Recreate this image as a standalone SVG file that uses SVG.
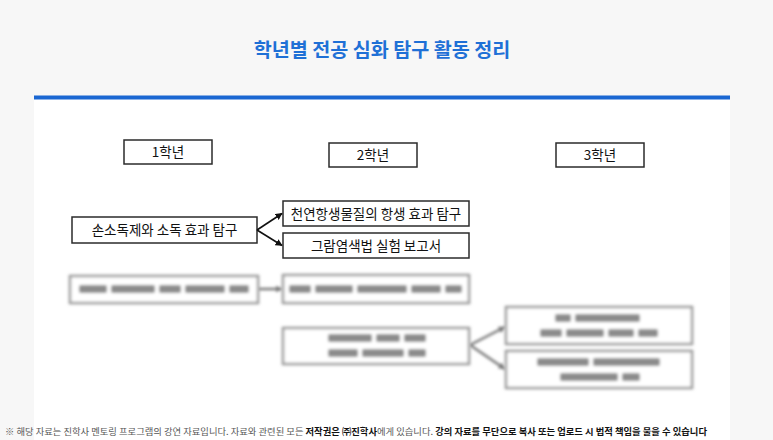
<svg xmlns="http://www.w3.org/2000/svg" width="773" height="440" viewBox="0 0 773 440">
  <style>
    .title { font-family: "Noto Sans CJK KR", "Noto Sans", sans-serif; font-size: 19.6px; font-weight: 700; fill: #1f70d6; }
    .box { fill: #ffffff; stroke: #2b2b2b; stroke-width: 1.5; }
    .lbl { font-family: "Noto Sans CJK KR", "Noto Sans", sans-serif; font-size: 13.5px; fill: #111111; }
    .glbl { font-family: "Noto Sans CJK KR", "Noto Sans", sans-serif; font-size: 13.5px; fill: #111111; }
    .conn { stroke: #111111; stroke-width: 1.6; fill: none; }
    .bbox { fill: #ffffff; stroke: #999999; stroke-width: 2.5; }
    .bconn { stroke: #777777; stroke-width: 2.5; fill: none; }
    .btext { fill: #8c8c8c; }
    .foot { font-family: "Noto Sans CJK KR", "Noto Sans", sans-serif; font-size: 8.6px; fill: #555555; }
    .foot .b { font-weight: 700; fill: #111111; }
  </style>
  <defs>
    <marker id="arrow" viewBox="0 0 10 10" refX="9" refY="5" markerWidth="7" markerHeight="7" markerUnits="userSpaceOnUse" orient="auto">
      <path d="M0,0 L10,5 L0,10 Z" fill="#111111"/>
    </marker>
    <marker id="barrow" viewBox="0 0 10 10" refX="9" refY="5" markerWidth="7" markerHeight="7" markerUnits="userSpaceOnUse" orient="auto">
      <path d="M0,0 L10,5 L0,10 Z" fill="#777777"/>
    </marker>
    <filter id="blur" x="-10%" y="-30%" width="120%" height="160%">
      <feGaussianBlur stdDeviation="1.8"/>
    </filter>
  </defs>

  <rect x="0" y="0" width="773" height="440" fill="#f7f7f7"/>
  <rect x="34" y="99" width="696" height="341" fill="#ffffff"/>
  <rect x="34" y="95.5" width="696" height="4" fill="#1a67d2"/>

  <text class="title" x="382" y="57" text-anchor="middle">학년별 전공 심화 탐구 활동 정리</text>

  <g id="grade1">
    <rect class="box" x="124" y="140" width="88" height="24"/>
    <text class="glbl" x="168" y="157" text-anchor="middle">1학년</text>
  </g>
  <g id="grade2">
    <rect class="box" x="329" y="143" width="88" height="24"/>
    <text class="glbl" x="373" y="160" text-anchor="middle">2학년</text>
  </g>
  <g id="grade3">
    <rect class="box" x="556" y="143" width="88" height="24"/>
    <text class="glbl" x="600" y="160" text-anchor="middle">3학년</text>
  </g>

  <g id="n1">
    <rect class="box" x="72" y="217" width="185" height="26"/>
    <text class="lbl" x="164.5" y="235" text-anchor="middle">손소독제와 소독 효과 탐구</text>
  </g>
  <g id="n2">
    <rect class="box" x="283" y="201" width="186" height="25"/>
    <text class="lbl" x="376" y="218.5" text-anchor="middle">천연항생물질의 항생 효과 탐구</text>
  </g>
  <g id="n3">
    <rect class="box" x="283" y="233" width="186" height="25"/>
    <text class="lbl" x="376" y="250.5" text-anchor="middle">그람염색법 실험 보고서</text>
  </g>

  <g id="connectors">
    <line class="conn" x1="257" y1="230" x2="282" y2="213.5" marker-end="url(#arrow)"/>
    <line class="conn" x1="257" y1="230" x2="282" y2="245.5" marker-end="url(#arrow)"/>
    <g filter="url(#blur)">
      <line class="bconn" x1="258" y1="289" x2="282" y2="289" marker-end="url(#barrow)"/>
      <line class="bconn" x1="470" y1="345" x2="505" y2="327" marker-end="url(#barrow)"/>
      <line class="bconn" x1="470" y1="345" x2="505" y2="369" marker-end="url(#barrow)"/>
    </g>
  </g>

  <g id="blurred" filter="url(#blur)">
    <g id="b1">
      <rect class="bbox" x="70" y="276" width="188" height="27"/>
      <rect class="btext" x="79" y="285" width="28" height="8" rx="2"/>
      <rect class="btext" x="111" y="285" width="44" height="8" rx="2"/>
      <rect class="btext" x="159" y="285" width="22" height="8" rx="2"/>
      <rect class="btext" x="185" y="285" width="40" height="8" rx="2"/>
      <rect class="btext" x="229" y="285" width="20" height="8" rx="2"/>
    </g>
    <g id="b2">
      <rect class="bbox" x="283" y="275" width="186" height="28"/>
      <rect class="btext" x="289" y="285" width="22" height="8" rx="2"/>
      <rect class="btext" x="315" y="285" width="38" height="8" rx="2"/>
      <rect class="btext" x="357" y="285" width="50" height="8" rx="2"/>
      <rect class="btext" x="411" y="285" width="30" height="8" rx="2"/>
      <rect class="btext" x="445" y="285" width="17" height="8" rx="2"/>
    </g>
    <g id="b3">
      <rect class="bbox" x="283" y="328" width="186" height="36"/>
      <rect class="btext" x="328" y="334" width="44" height="8" rx="2"/>
      <rect class="btext" x="376" y="334" width="24" height="8" rx="2"/>
      <rect class="btext" x="404" y="334" width="22" height="8" rx="2"/>
      <rect class="btext" x="328" y="349" width="30" height="8" rx="2"/>
      <rect class="btext" x="362" y="349" width="42" height="8" rx="2"/>
      <rect class="btext" x="408" y="349" width="18" height="8" rx="2"/>
    </g>
    <g id="b4">
      <rect class="bbox" x="506" y="307" width="186" height="37"/>
      <rect class="btext" x="555" y="314" width="16" height="8" rx="2"/>
      <rect class="btext" x="575" y="314" width="65" height="8" rx="2"/>
      <rect class="btext" x="540" y="329" width="22" height="8" rx="2"/>
      <rect class="btext" x="566" y="329" width="38" height="8" rx="2"/>
      <rect class="btext" x="608" y="329" width="26" height="8" rx="2"/>
      <rect class="btext" x="638" y="329" width="20" height="8" rx="2"/>
    </g>
    <g id="b5">
      <rect class="bbox" x="506" y="351" width="186" height="37"/>
      <rect class="btext" x="537" y="358" width="52" height="8" rx="2"/>
      <rect class="btext" x="593" y="358" width="67" height="8" rx="2"/>
      <rect class="btext" x="560" y="373" width="58" height="8" rx="2"/>
      <rect class="btext" x="622" y="373" width="18" height="8" rx="2"/>
    </g>
  </g>

  <text class="foot" x="5" y="435" textLength="702" lengthAdjust="spacingAndGlyphs">※ 해당 자료는 진학사 멘토링 프로그램의 강연 자료입니다. 자료와 관련된 모든 <tspan class="b">저작권은 ㈜진학사</tspan>에게 있습니다. <tspan class="b">강의 자료를 무단으로 복사 또는 업로드 시 법적 책임을 물을 수 있습니다</tspan></text>
</svg>
